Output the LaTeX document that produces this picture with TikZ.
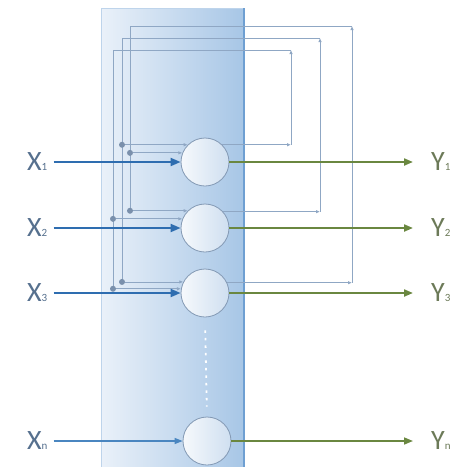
\documentclass[tikz,border=0pt]{standalone}
\usepackage{fontspec}
\setmainfont{Carlito}
\usetikzlibrary{arrows.meta,calc}
\definecolor{xblue}{HTML}{2E6DB0}
\definecolor{xbluen}{HTML}{4A86C0}
\definecolor{ygreen}{HTML}{6A8740}
\definecolor{fb}{HTML}{8FA7C4}
\definecolor{fbdot}{HTML}{7A90AC}
\definecolor{xlab}{HTML}{56708E}
\definecolor{ylab}{HTML}{6C7A58}
\definecolor{panelL}{HTML}{EAF1F9}
\definecolor{panelR}{HTML}{A7C6E6}
\definecolor{panelEdge}{HTML}{6E9FD2}
\definecolor{nborder}{HTML}{8399B4}
\definecolor{nL}{HTML}{F6F9FC}
\definecolor{nR}{HTML}{CFDFF0}
\tikzset{
  neuron/.style={circle, minimum size=48pt, inner sep=0pt, draw=nborder, line width=0.8pt, left color=nL, right color=nR},
  xlabel/.style={anchor=west, inner sep=0pt, text=xlab, font=\fontsize{28}{30}\selectfont},
  ylabel/.style={anchor=west, inner sep=0pt, text=ylab, font=\fontsize{28}{30}\selectfont},
  inarrow/.style={draw=xblue, line width=2pt, -{Triangle[length=10pt,width=8pt]}},
  inarrown/.style={draw=xbluen, line width=1.2pt, -{Triangle[length=8pt,width=6pt]}},
  outarrow/.style={draw=ygreen, line width=2pt, -{Triangle[length=9pt,width=7pt]}},
  fbline/.style={draw=fb, line width=0.8pt},
  fbtip/.style={draw=fb, line width=0.8pt, -{Latex[length=4pt,width=3.5pt]}},
  fbdotted/.style={fill=fbdot, circle, inner sep=0pt, minimum size=6pt},
}
\newcommand{\sub}[1]{\raisebox{0pt}{\fontsize{11}{12}\selectfont #1}}
\begin{document}
\begin{tikzpicture}[x=1pt,y=-1pt]
\useasboundingbox (0,0) rectangle (454,467);
% panel
\shade[left color=panelL, right color=panelR] (101,8) rectangle (244,467);
\draw[panelEdge!45, line width=0.8pt] (101,467) -- (101,8) -- (244,8);
\draw[panelEdge, line width=1.2pt] (244,8) -- (244,467);

% neurons
\node[neuron] (n1) at (205,162) {};
\node[neuron] (n2) at (205,228) {};
\node[neuron] (n3) at (205,293) {};
\node[neuron] (nn) at (207,441) {};

% feedback corner coordinates
\coordinate (t1) at (291,50);  \coordinate (l1) at (113,50);
\coordinate (t2) at (320,38);  \coordinate (l2) at (122,38);
\coordinate (t3) at (352,26);  \coordinate (l3) at (130,26);

% loop A (neuron 1 output)
\draw[fbtip] (n1.45) -- (n1.45 -| t1);
\draw[fbtip] (n1.45 -| t1) -- (t1);
\draw[fbline] (t1) -- (l1) -- (l1 |- n3.170);
% loop B (neuron 2 output)
\draw[fbtip] (n2.42) -- (n2.42 -| t2);
\draw[fbtip] (n2.42 -| t2) -- (t2);
\draw[fbline] (t2) -- (l2) -- (l2 |- n3.153);
% loop C (neuron 3 output)
\draw[fbtip] (n3.25) -- (n3.25 -| t3);
\draw[fbtip] (n3.25 -| t3) -- (t3);
\draw[fbline] (t3) -- (l3) -- (l3 |- n2.135);

% branch dots and inputs
\node[fbdotted] (b11) at (l2 |- n1.135) {};
\node[fbdotted] (b12) at (l3 |- n1.158) {};
\node[fbdotted] (b21) at (l3 |- n2.135) {};
\node[fbdotted] (b22) at (l1 |- n2.158) {};
\node[fbdotted] (b31) at (l2 |- n3.153) {};
\node[fbdotted] (b32) at (l1 |- n3.170) {};
\draw[fbtip] (b11) -- (n1.135);
\draw[fbtip] (b12) -- (n1.158);
\draw[fbtip] (b21) -- (n2.135);
\draw[fbtip] (b22) -- (n2.158);
\draw[fbtip] (b31) -- (n3.153);
\draw[fbtip] (b32) -- (n3.170);

% dotted continuation
\draw[white, line width=1.8pt, dash pattern=on 2.5pt off 5pt, shorten <=13pt, shorten >=10pt] (n3.south) -- (nn.north);

% labels
\node[xlabel] (x1) at (27,162) {X\sub{1}};
\node[xlabel] (x2) at (27,228) {X\sub{2}};
\node[xlabel] (x3) at (27,293) {X\sub{3}};
\node[xlabel] (xn) at (27,441) {X\sub{n}};
\node[ylabel] (y1) at (431,162) {Y\sub{1}};
\node[ylabel] (y2) at (431,228) {Y\sub{2}};
\node[ylabel] (y3) at (431,293) {Y\sub{3}};
\node[ylabel] (yn) at (431,441) {Y\sub{n}};

% input arrows
\draw[inarrow] ([xshift=6pt]x1.east) -- (n1.west);
\draw[inarrow] ([xshift=6pt]x2.east) -- (n2.west);
\draw[inarrow] ([xshift=6pt]x3.east) -- (n3.west);
\draw[inarrown] ([xshift=6pt]xn.east) -- (nn.west);

% output arrows
\draw[outarrow] (n1.east) -- ([xshift=-18pt]y1.west);
\draw[outarrow] (n2.east) -- ([xshift=-18pt]y2.west);
\draw[outarrow] (n3.east) -- ([xshift=-18pt]y3.west);
\draw[outarrow, line width=1.6pt] (nn.east) -- ([xshift=-18pt]yn.west);
\end{tikzpicture}
\end{document}
